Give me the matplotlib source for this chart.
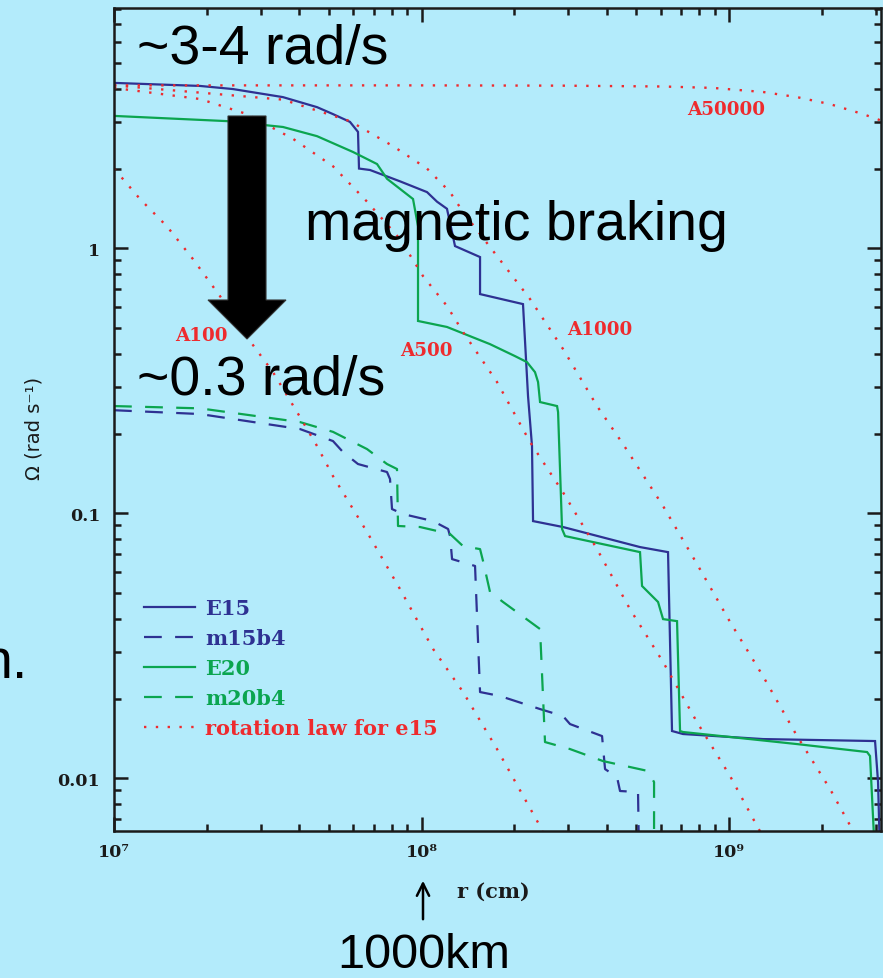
import matplotlib
matplotlib.use("Agg")
import matplotlib.pyplot as plt
from matplotlib.patches import FancyArrow
from matplotlib.ticker import FixedLocator, FixedFormatter, LogLocator, NullFormatter

W, H = 883, 979


def fpx(x, y):
    # pixel position on the slide -> figure fraction
    return x / W, 1 - y / H


# --- data: r (cm), Omega (rad/s) ---
e15_r = [1.0e7, 1.904e7, 2.438e7, 3.544e7, 4.573e7, 5.154e7, 5.853e7, 6.215e7, 6.262e7, 6.801e7,
         8.512e7, 1.042e8, 1.123e8, 1.210e8, 1.257e8, 1.285e8, 1.550e8, 1.550e8, 2.138e8, 2.220e8,
         2.287e8, 2.305e8, 2.885e8, 5.135e8, 6.333e8, 6.525e8, 7.086e8, 1.290e9, 2.984e9, 3.052e9,
         3.098e9]
e15_w = [4.21, 4.10, 3.99, 3.72, 3.41, 3.21, 3.00, 2.75, 2.00, 1.975,
         1.79, 1.63, 1.50, 1.41, 1.15, 1.02, 0.927, 0.672, 0.616, 0.277,
         0.1795, 0.0935, 0.0888, 0.0746, 0.0714, 0.01509, 0.0147, 0.01407, 0.01383, 0.00968,
         0.005]

e20_r = [1.0e7, 2.331e7, 3.544e7, 4.573e7, 5.986e7, 7.167e7, 7.723e7, 9.384e7, 9.741e7, 9.741e7,
         1.210e8, 1.670e8, 2.014e8, 2.203e8, 2.339e8, 2.393e8, 2.429e8, 2.759e8, 2.780e8, 2.864e8,
         2.929e8, 5.135e8, 5.213e8, 5.877e8, 6.101e8, 6.775e8, 6.929e8, 7.086e8, 1.664e9, 2.811e9,
         2.874e9, 2.984e9]
e20_w = [3.16, 3.02, 2.87, 2.65, 2.31, 2.08, 1.83, 1.535, 1.21, 0.532,
         0.505, 0.435, 0.392, 0.372, 0.341, 0.313, 0.263, 0.254, 0.241, 0.0873,
         0.0821, 0.0714, 0.0532, 0.0463, 0.0399, 0.0392, 0.01509, 0.01496, 0.01347, 0.01257,
         0.01214, 0.005]

m15_r = [1.0e7, 1.904e7, 4.026e7, 5.154e7, 5.555e7, 6.215e7, 7.723e7, 7.899e7, 8.018e7, 8.705e7,
         1.090e8, 1.220e8, 1.238e8, 1.257e8, 1.493e8, 1.550e8, 1.800e8, 2.429e8, 2.885e8, 3.040e8,
         3.864e8, 3.952e8, 4.323e8, 4.421e8, 5.059e8, 5.097e8]
m15_w = [0.245, 0.237, 0.208, 0.1874, 0.1703, 0.1535, 0.1432, 0.1347, 0.1038, 0.0994,
         0.0935, 0.0873, 0.0821, 0.0672, 0.0633, 0.02117, 0.02045, 0.01826, 0.01718, 0.01603,
         0.01444, 0.01084, 0.01011, 0.00896, 0.00888, 0.005]

m20_r = [1.0e7, 1.904e7, 4.026e7, 5.154e7, 6.650e7, 7.723e7, 8.323e7, 8.386e7, 9.888e7, 1.238e8,
         1.365e8, 1.550e8, 1.585e8, 1.670e8, 1.841e8, 2.429e8, 2.521e8, 3.040e8, 3.893e8, 5.453e8,
         5.704e8, 5.704e8]
m20_w = [0.254, 0.249, 0.221, 0.203, 0.1748, 0.1535, 0.147, 0.0896, 0.0888, 0.0836,
         0.0752, 0.0733, 0.0661, 0.0505, 0.0463, 0.0366, 0.01371, 0.0129, 0.01162, 0.01066,
         0.00968, 0.005]

# rotation laws for e15
a100_r = [1.0e7, 1.215e7, 1.487e7, 1.806e7, 2.212e7, 2.707e7, 3.289e7, 4.026e7, 4.573e7, 5.154e7,
          6.650e7, 8.512e7, 1.090e8, 1.365e8, 1.760e8, 2.429e8, 2.6e8]
a100_w = [2.00, 1.535, 1.21, 0.911, 0.66, 0.463, 0.341, 0.231, 0.1795, 0.1382,
          0.085, 0.0518, 0.0308, 0.02117, 0.0129, 0.0066, 0.0055]

a500_r = [1.0e7, 1.904e7, 2.707e7, 3.820e7, 5.154e7, 6.650e7, 8.512e7, 1.011e8, 1.210e8, 1.365e8,
          1.760e8, 2.253e8, 2.885e8, 3.722e8, 4.764e8, 6.101e8, 7.867e8, 1.008e9, 1.234e9, 1.35e9]
a500_w = [4.03, 3.66, 3.21, 2.59, 2.04, 1.50, 1.084, 0.786, 0.606, 0.483,
          0.313, 0.186, 0.12, 0.0733, 0.0435, 0.0275, 0.0163, 0.0102, 0.0066, 0.0055]

a1000_r = [1.0e7, 3.544e7, 5.853e7, 8.077e7, 1.042e8, 1.238e8, 1.365e8, 1.760e8, 2.253e8, 2.885e8,
           3.722e8, 4.521e8, 6.101e8, 7.867e8, 1.008e9, 1.290e9, 1.664e9, 2.131e9, 2.512e9, 2.8e9]
a1000_w = [4.12, 3.64, 3.02, 2.43, 2.00, 1.63, 1.371, 0.935, 0.644, 0.417,
           0.254, 0.1826, 0.1066, 0.0644, 0.0389, 0.0243, 0.01444, 0.00911, 0.00644, 0.0052]

a50000_r = [1.0e7, 1.0e8, 2.885e8, 6.101e8, 8.872e8, 1.290e9, 1.664e9, 2.131e9, 2.728e9, 3.16e9]
a50000_w = [4.12, 4.12, 4.11, 4.08, 4.03, 3.89, 3.72, 3.50, 3.21, 3.02]

y_ticks = [0.01, 0.1, 1]
y_tick_labels = ["0.01", "0.1", "1"]
x_ticks = [1e7, 1e8, 1e9]
x_tick_labels = ["10⁷", "10⁸", "10⁹"]

BLUE = "#2e3192"
GREEN = "#0ba54f"
RED = "#ee2b2e"
BG = "#b3ebfb"
INK = "#1a1a1a"

serif = ["DejaVu Serif"]
sans = ["Liberation Sans", "DejaVu Sans"]

fig = plt.figure(figsize=(W / 100, H / 100), dpi=100, facecolor=BG)
ax = fig.add_axes([114 / W, 1 - 832 / H, 767 / W, 823 / H])
ax.set_facecolor(BG)

solid = dict(lw=1.6, solid_joinstyle="miter")
dashed = dict(lw=1.6, linestyle=(0, (8, 6)))
dotted = dict(lw=1.7, linestyle=(0, (1, 4.0)), color=RED)

ax.plot(e15_r, e15_w, color=BLUE, label="E15", **solid)
ax.plot(m15_r, m15_w, color=BLUE, label="m15b4", **dashed)
ax.plot(e20_r, e20_w, color=GREEN, label="E20", **solid)
ax.plot(m20_r, m20_w, color=GREEN, label="m20b4", **dashed)
ax.plot(a100_r, a100_w, label="rotation law for e15", **dotted)
ax.plot(a500_r, a500_w, **dotted)
ax.plot(a1000_r, a1000_w, **dotted)
ax.plot(a50000_r, a50000_w, **dotted)

ax.set_xscale("log")
ax.set_yscale("log")
ax.set_xlim(1e7, 3.12e9)
ax.set_ylim(0.00633, 8.07)

ax.xaxis.set_major_locator(FixedLocator(x_ticks))
ax.xaxis.set_major_formatter(FixedFormatter(x_tick_labels))
ax.yaxis.set_major_locator(FixedLocator(y_ticks))
ax.yaxis.set_major_formatter(FixedFormatter(y_tick_labels))
for axis in (ax.xaxis, ax.yaxis):
    axis.set_minor_locator(LogLocator(base=10, subs=range(2, 10), numticks=20))
    axis.set_minor_formatter(NullFormatter())

ax.tick_params(which="both", direction="in", top=True, right=True, width=1.8, colors=INK)
ax.tick_params(which="major", length=10)
ax.tick_params(which="minor", length=5)
ax.tick_params(axis="y", which="major", pad=10)
ax.tick_params(axis="x", which="major", pad=9)
for lab in ax.get_xticklabels() + ax.get_yticklabels():
    lab.set_family(serif)
    lab.set_fontweight("bold")
    lab.set_fontsize(12.5)
for sp in ax.spines.values():
    sp.set_linewidth(1.8)
    sp.set_color(INK)

ax.set_xlabel("r (cm)", family=serif, fontweight="bold", fontsize=15, color=INK)
ax.set_ylabel("Ω (rad s⁻¹)", family=["DejaVu Sans"], fontsize=14, color=INK)
ax.xaxis.set_label_coords((493 - 114) / 767, (832 - 882) / 823)
ax.yaxis.set_label_coords((43 - 114) / 767, (832 - 428) / 823)

leg = ax.legend(loc="upper left", bbox_to_anchor=fpx(144, 599), bbox_transform=fig.transFigure,
                frameon=False, labelcolor="linecolor", handlelength=2.45, handletextpad=0.48,
                labelspacing=0.48, borderpad=0, borderaxespad=0,
                prop=dict(family=serif, weight="bold", size=15))

# rotation-law labels
for txt, x, y in [("A100", 175, 341), ("A500", 400, 356), ("A1000", 567, 335), ("A50000", 687, 115)]:
    fig.text(*fpx(x, y), txt, color=RED, family=serif, fontweight="bold", fontsize=13.2,
             ha="left", va="baseline")

# slide overlay text
big = dict(family=sans, fontsize=40, color="black", va="baseline")
fig.text(*fpx(137, 64), "~3-4 rad/s", ha="left", **big)
fig.text(*fpx(305, 240), "magnetic braking", ha="left", **big)
fig.text(*fpx(137, 395), "~0.3 rad/s", ha="left", **big)
fig.text(*fpx(28, 678), "n.", ha="right", **big)
fig.text(*fpx(424, 968), "1000km", ha="center", family=sans, fontsize=35, color="black", va="baseline")

# big black arrow
x0, ytop = fpx(247, 117)
_, ytip = fpx(247, 340)
fig.add_artist(FancyArrow(x0, ytop, 0, ytip - ytop, width=38 / W, head_width=78 / W,
                          head_length=39 / H, length_includes_head=True,
                          transform=fig.transFigure, facecolor="black", edgecolor="#333333", lw=0.8))

# thin arrow pointing at 10^8
fig.add_artist(plt.Annotation("", xy=fpx(423, 879), xytext=fpx(423, 923),
                              xycoords="figure fraction", textcoords="figure fraction",
                              arrowprops=dict(arrowstyle="->", lw=1.8, color="black", mutation_scale=22)))

fig.savefig("out.png", dpi=100, facecolor=BG)
